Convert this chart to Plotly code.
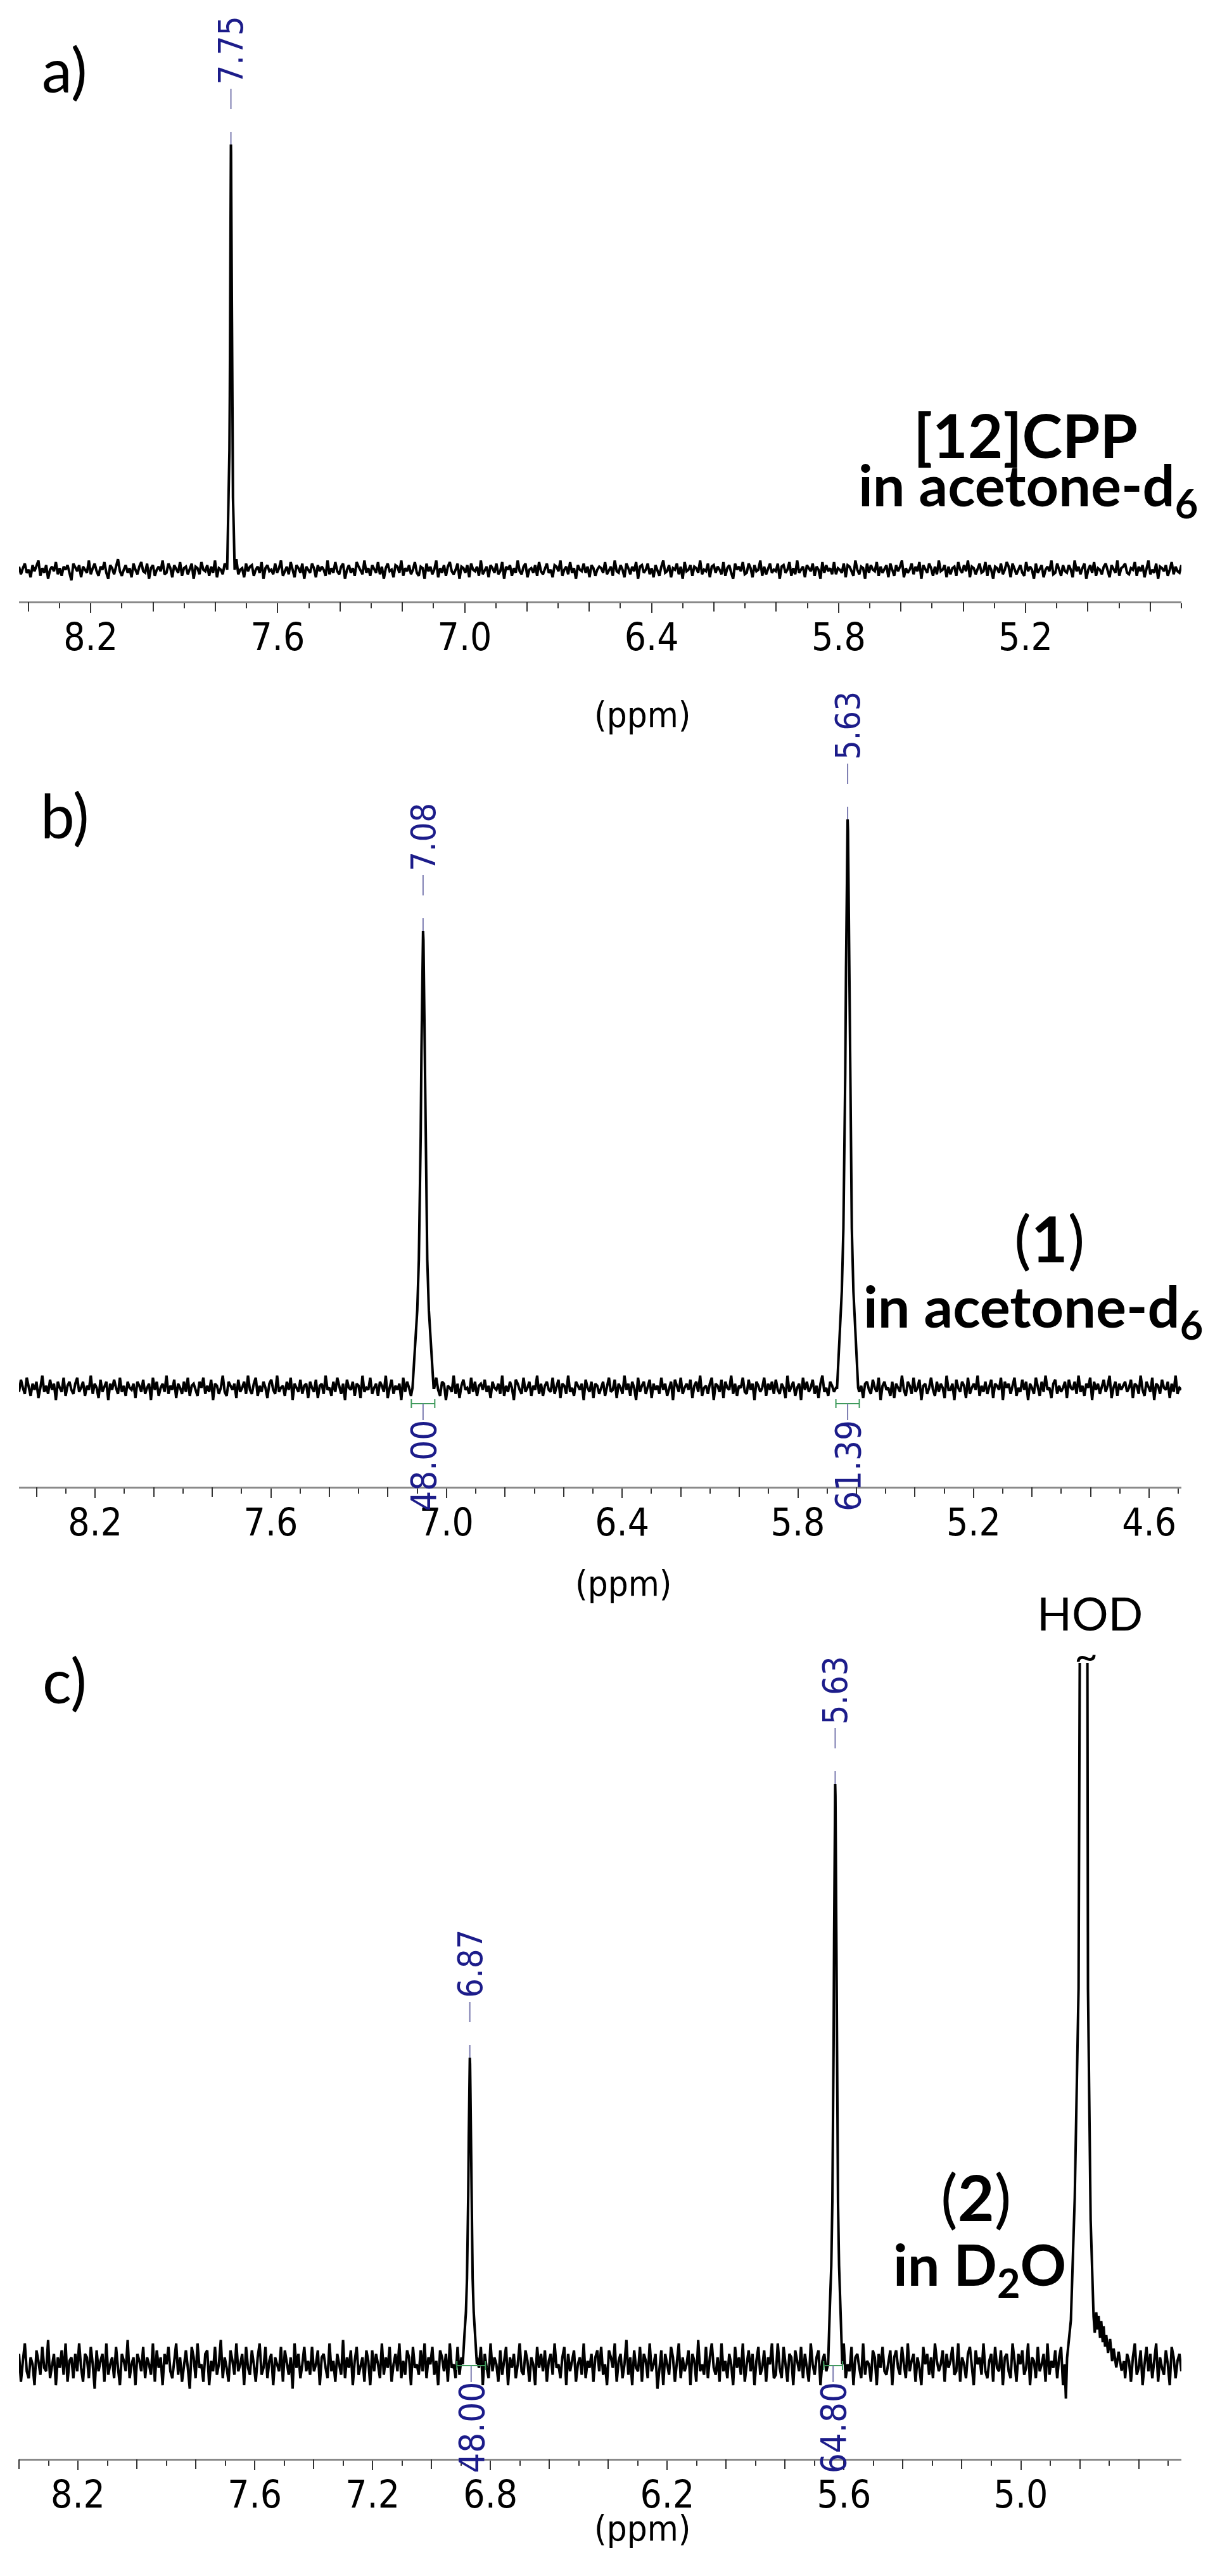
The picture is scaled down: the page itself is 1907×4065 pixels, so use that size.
import numpy as np
import plotly.graph_objects as go

W, H = 1907, 4065

# ------------------------------------------------------------------ data
# intensities are in arbitrary units
# panel a) [12]CPP in acetone-d6
A_RANGE = [8.43, 4.70]
A_TICK_LABELS = [8.2, 7.6, 7.0, 6.4, 5.8, 5.2]
A_PEAK_PPM = [7.75]
A_PEAK_HEIGHT = [67.1]
A_PEAK_HWHM = [0.003]
A_PEAK_LABELS = ["7.75"]
A_NOISE_SCALE = 0.24

# panel b) (1) in acetone-d6
B_RANGE = [8.46, 4.49]
B_TICK_LABELS = [8.2, 7.6, 7.0, 6.4, 5.8, 5.2, 4.6]
B_PEAK_PPM = [7.08, 5.63]
B_PEAK_HEIGHT = [72.1, 89.7]
B_PEAK_HWHM = [0.009, 0.009]
B_PEAK_LABELS = ["7.08", "5.63"]
B_INT_FROM = [7.12, 5.67]
B_INT_TO = [7.04, 5.59]
B_INT_VALUES = ["48.00", "61.39"]
B_NOISE_SCALE = 0.32

# panel c) (2) in D2O
C_RANGE = [8.40, 4.455]
C_TICK_LABELS = [8.2, 7.6, 7.2, 6.8, 6.2, 5.6, 5.0]
C_PEAK_PPM = [6.87, 5.63]
C_PEAK_HEIGHT = [48.4, 91.6]
C_PEAK_HWHM = [0.006, 0.006]
C_PEAK_LABELS = ["6.87", "5.63"]
C_INT_FROM = [6.914, 5.669]
C_INT_TO = [6.817, 5.605]
C_INT_VALUES = ["48.00", "64.80"]
C_NOISE_SCALE = 0.55

# HOD residual solvent peak (clipped at top), read point by point
HOD_PPM = [4.851, 4.847, 4.843, 4.838, 4.830, 4.817, 4.804, 4.800, 4.793, 4.787,
           4.781, 4.774, 4.772, 4.763, 4.753, 4.749, 4.744, 4.740, 4.736, 4.731,
           4.727, 4.722, 4.719, 4.714, 4.710, 4.704, 4.697, 4.690, 4.685, 4.676,
           4.668, 4.658, 4.650]
HOD_INT = [0.0, -5.4, 1.0, 3.0, 7.0, 26.2, 59.3, 110.7, 300.0, 500.0,
           300.0, 110.7, 59.3, 22.8, 7.5, 5.0, 8.2, 5.5, 7.6, 4.2,
           6.8, 3.5, 6.0, 2.8, 4.6, 1.8, 4.0, 0.5, 2.5, -0.5,
           2.0, -1.0, 0.5]

# line shape of a single resonance (offset in half-widths, relative height)
PROFILE_U = [-4, -3, -2.2, -1.6, -1.2, -0.9, -0.6, -0.35, -0.15, 0,
             0.15, 0.35, 0.6, 0.9, 1.2, 1.6, 2.2, 3, 4]
PROFILE_H = [0.0, 0.1, 0.17, 0.28, 0.41, 0.55, 0.74, 0.89, 0.98, 1.0,
             0.98, 0.89, 0.74, 0.55, 0.41, 0.28, 0.17, 0.1, 0.0]

# baseline noise
NOISE_A = [2,-3,1,4,-2,0,-5,3,-1,2,6,-4,1,-2,3,-6,0,2,-1,5,-3,1,-4,2,0,3,-2,-7,4,1,
           -1,3,-5,2,0,-2,6,-3,1,4,-1,-4,2,0,5,-2,-6,3,1,-3,2,7,-1,-4,0,3,-2,1,-5,4,
           0,-3,2,5,-1,-2,4,-6,1,3,-4,0,2,-1,6,-3,-2,4,1,-5,3,0,-2,5,-4,1,2,-3,0,4,
           -6,2,1,-3,5,0,-1,3,-4,2,-2,6,-5,1,0,-3,4,2,-1,-4,3,-2,7,-3,0,1,-5,4,-1,2,
           3,-4,0,2,-2,5,-6,1,3,-1,0,-3,4,-2,1,6,-4,-1,2,-3,5,0,-5,3,1,-2,4,-6,2,0,
           -2,4,1,-5,3,-1,2,0,-4,6,-3,1,-2,5,-1,-3,2,4,-6,0,3,-2,1,-4,5,2,-1,-3,6,-2,
           1,-4,3,0,-2,5,-3,2,-6,1,4,-1,0,-5,3,2,-2,6,-4,1,-1,3,-3,0,5,-2,-4,2,1,-6,
           4,-1,2,-3,0,6,-5,1,-2,3,-4,2,5,-1,-3,0,4,-6,2,1,-2,3,-5,4,0,-1,2,-4,6,-3,
           0,2,-5,3,1,-2,4,-3,-1,5,-6,2,0,3,-4,1,-2,6,-1,-3,2,4,-5,0,1,-2,3,-4,5,-1,
           -3,1,4,-2,0,-5,3,2,-1,6,-4,0,2,-3,5,-2,1,-6,3,0,-1,4,-2,2,-5,3,1,-4,0,2,
           1,-2,5,-3,0,2,-4,6,-1,-2,3,0,-5,4,1,-3,2,-1,5,-6,2,3,-2,0,4,-3,1,-5,3,0,
           -4,2,6,-2,-1,3,-5,1,0,4,-3,2,-6,5,-1,0,3,-4,2,1,-2,6,-3,0,-1,4,-5,2,3,-2,
           2,0,-3,5,-4,1,3,-2,-6,4,0,2,-1,5,-3,-2,4,1,-5,3,-1,0,6,-4,2,-3,1,4,-2,0,
           -1,4,-6,2,3,-2,0,5,-4,1,-3,6,-2,0,2,-5,3,1,-1,4,-4,2,0,-6,5,-2,3,-1,1,-3,
           5,-3,1,0,-2,4,-5,3,2,-1,-4,6,0,-3,2,1,-6,4,-2,3,0,-1,5,-4,2,-2,1,3,-5,4,
           0,-4,3,-1,2,6,-5,1,-2,0,4,-3,2,-1,5,-6,3,0,-2,4,1,-4,2,-3,6,-1,0,3,-5,2,
           -3,1,2,-4,5,0,-2,3,-1,6,-5,2,1,-3,0,4,-2,-1,5,-4,3,0,-6,2,1,-2,4,-3,0,5,
           2,-5,4,1,-3,0,3,-2,-4,5,-1,2,0,-6,4,-2,1,3,-5,0,2,-1,6,-3,-2,4,0,-4,3,-1,
           -2,3,0,-5,6,-1,2,-3,1,4,-6,0,3,-2,5,-4,1,0,-3,2,4,-1,-5,3,0,-2,6,-4,1,2,
           4,-2,-3,1,0,5,-4,2,-1,3,-5,1,6,-3,0,-2,4,-6,2,1,-1,3,-4,0,5,-3,2,-1,-2,3]
NOISE_B = [-2,4,0,-3,5,1,-4,2,-1,3,-5,0,6,-2,1,-3,4,-1,2,-6,3,0,-2,5,-4,1,3,-1,-3,2,
           5,-2,0,3,-4,1,-1,6,-3,2,0,-5,4,-2,1,3,-6,2,-1,4,0,-3,5,-2,1,-4,3,0,-1,2,
           -5,3,1,-2,4,-3,0,2,-6,5,-1,3,-4,0,2,-2,6,-3,1,-1,4,-5,2,0,-3,3,-2,5,-4,1,
           2,-1,-4,3,0,5,-3,1,-2,4,-6,2,1,-3,0,6,-2,-4,3,1,-1,2,-5,4,-2,0,3,-3,6,-1,
           -3,2,5,-4,1,-2,3,0,-5,2,4,-1,-3,6,-2,0,1,-4,3,-1,5,-6,2,0,-2,4,-3,1,2,-5,
           3,0,-2,4,-5,1,2,-3,6,-1,0,-4,3,-2,5,1,-3,2,-6,4,0,-1,3,-4,2,1,-5,6,-2,0,
           -1,5,-3,0,2,-4,3,1,-2,6,-5,0,4,-3,1,-1,2,-6,5,-2,3,0,-4,1,4,-3,2,-1,-5,3,
           1,-3,4,-2,0,5,-1,-4,3,2,-6,1,0,-2,6,-3,2,-5,1,4,-1,0,-3,5,-2,3,-4,1,2,-1,
           4,-2,1,-5,3,0,-1,2,-3,6,-4,1,-2,3,0,-6,4,2,-1,-3,5,-2,0,3,-4,1,-1,6,-3,2,
           -4,1,3,-1,-2,5,-3,0,4,-5,2,1,-3,6,-2,0,-4,3,1,-1,2,-6,4,0,-2,3,-5,2,1,-3,
           0,3,-4,1,5,-2,-1,4,-5,2,0,-3,6,-1,2,-4,3,0,-6,5,-2,1,3,-3,0,4,-5,2,-1,1,
           -3,5,-1,2,-4,0,3,-6,4,1,-2,5,-3,0,2,-1,4,-5,1,3,-2,6,-4,0,1,-3,2,5,-6,2,
           1,-2,4,-5,3,0,-1,6,-3,2,-4,1,0,5,-2,-3,4,-1,2,-6,3,1,-2,0,5,-4,2,-1,3,-3,
           4,-1,-3,2,0,-5,6,-2,1,3,-4,0,2,-6,5,-1,3,-2,0,4,-3,1,-5,2,6,-2,0,-4,3,1,
           -2,0,5,-3,1,4,-6,2,-1,0,3,-4,6,-2,1,-5,2,3,-1,-3,4,0,-2,5,-6,1,3,-1,0,-4,
           3,-5,2,0,-2,6,-1,-4,3,1,-3,5,-2,0,4,-6,1,2,-3,0,5,-1,-4,3,-2,2,0,-5,6,-1,
           -1,2,-6,4,0,-2,3,1,-5,5,-3,0,2,-1,6,-4,1,-2,3,-3,0,4,-5,2,1,-1,5,-6,3,0,
           2,-3,1,5,-4,0,-2,4,-1,3,-6,2,0,-3,5,1,-4,3,-2,6,-1,0,-5,2,4,-3,1,-2,0,3,
           -5,4,0,-1,3,-3,6,-2,1,-4,2,0,5,-6,3,-1,2,-3,0,4,-2,1,6,-5,0,3,-4,2,-1,1,
           3,-2,0,4,-5,2,1,-3,6,-1,-4,3,0,-2,5,-6,2,1,-3,4,0,-1,3,-5,2,-2,6,-3,0,-1]
NOISE_C = [3,-5,1,6,-2,-4,2,0,-6,4,1,-3,5,-1,-2,7,-4,0,3,-6,2,-1,4,-3,6,-5,1,2,-4,3,
           -2,6,-1,-5,3,2,-4,5,0,-7,4,-2,1,3,-5,6,-3,0,2,-4,5,-1,-6,3,1,-2,7,-4,0,2,
           -6,3,1,-2,5,-4,2,0,-3,6,-5,4,-1,2,-6,3,0,5,-2,-4,1,6,-3,2,-5,0,4,-1,-7,5,
           2,-4,6,-1,0,-5,3,4,-6,1,-2,5,-3,0,7,-4,2,-1,-5,4,1,-3,6,-2,0,3,-6,5,-1,-3,
           4,0,-5,2,6,-3,-1,5,-4,1,3,-6,2,0,-2,5,-5,4,1,-3,2,-7,6,-1,3,-4,0,5,-2,1,
           -3,5,-2,0,4,-6,2,3,-1,-4,6,-2,1,-5,3,0,-3,7,-4,2,-1,4,-6,1,5,-3,0,2,-5,4,
           1,-6,4,-2,3,0,-4,6,-3,2,-1,5,-5,0,3,-2,6,-4,1,-3,4,2,-6,5,-1,0,-3,4,-2,6,
           -4,2,0,5,-3,1,-6,4,2,-2,3,-5,6,-1,0,-4,5,-3,2,1,-5,3,-2,6,-4,0,2,-1,5,-6,
           3,-1,-4,6,-2,2,0,-5,4,-3,1,5,-6,2,-1,3,-4,0,6,-2,-3,4,1,-5,2,0,-6,5,-1,3,
           -2,4,-5,1,3,-3,6,-1,0,-4,2,5,-6,3,-2,1,4,-5,0,2,-3,6,-4,1,-1,3,-5,2,4,-2,
           5,-3,0,-6,4,2,-1,6,-5,1,3,-4,0,7,-3,2,-6,4,-1,-2,5,-5,3,1,-4,6,-2,0,3,-7,
           -1,4,-6,3,0,-3,5,2,-5,1,6,-4,2,-2,0,4,-6,3,1,-5,7,-2,0,-3,5,-4,2,6,-1,-3,
           2,-5,6,-2,1,-4,3,0,-6,5,-1,2,-3,6,-5,0,4,-2,3,-6,1,5,-3,-1,4,-5,2,0,6,-4,
           -3,6,-1,-4,5,0,-5,3,2,-6,4,1,-2,5,-4,3,-1,-5,6,0,-3,2,4,-6,1,3,-2,-4,5,0,
           4,-2,-5,3,1,6,-4,0,-2,5,-6,2,3,-1,-4,6,-3,1,0,-5,4,2,-6,3,-1,5,-2,-3,1,4,
           -6,2,4,-1,-3,5,0,-4,6,-2,1,3,-5,2,-1,-6,5,0,3,-3,2,-4,6,1,-2,0,4,-5,3,-1,
           1,5,-3,-2,6,-5,2,0,-4,3,5,-1,-6,4,0,2,-3,6,-2,-4,1,3,-5,5,-1,-2,4,-6,2,3,
           -2,-4,6,1,-5,3,0,4,-3,-1,6,-6,2,1,-4,5,-2,0,3,-5,6,-3,1,-1,4,-4,2,5,-6,0,
           3,-1,-3,5,-6,2,4,-2,0,6,-5,1,-3,3,2,-6,4,-1,5,-4,0,2,-5,6,-2,1,3,-4,0,5,
           -4,3,1,-5,2,6,-3,-1,4,-6,0,5,-2,3,-4,1,6,-5,2,-1,-3,4,0,-6,5,2,-4,1,3,-2]

# ------------------------------------------------------------------ layout constants (pixels)
PX_PER_UNIT = 10.0
X_LEFT_PX, X_RIGHT_PX = 22, 1857
PANELS = [
    dict(key="", extra="4", top=5, base=891, axis=941, rng=A_RANGE, ticks=A_TICK_LABELS,
         ppm=A_PEAK_PPM, height=A_PEAK_HEIGHT, hwhm=A_PEAK_HWHM, labels=A_PEAK_LABELS,
         noise=NOISE_A, nscale=A_NOISE_SCALE, ints=None, ppm_title_x=1006, ppm_title_y=1085),
    dict(key="2", extra="5", top=1040, base=2182, axis=2338, rng=B_RANGE, ticks=B_TICK_LABELS,
         ppm=B_PEAK_PPM, height=B_PEAK_HEIGHT, hwhm=B_PEAK_HWHM, labels=B_PEAK_LABELS,
         noise=NOISE_B, nscale=B_NOISE_SCALE,
         ints=(B_INT_FROM, B_INT_TO, B_INT_VALUES, -2.5), ppm_title_x=976, ppm_title_y=2490),
    dict(key="3", extra="6", top=2616, base=3723, axis=3872, rng=C_RANGE, ticks=C_TICK_LABELS,
         ppm=C_PEAK_PPM, height=C_PEAK_HEIGHT, hwhm=C_PEAK_HWHM, labels=C_PEAK_LABELS,
         noise=NOISE_C, nscale=C_NOISE_SCALE,
         ints=(C_INT_FROM, C_INT_TO, C_INT_VALUES, -0.2), ppm_title_x=1006, ppm_title_y=4016),
]

LABEL_BLUE = "#1c1c8a"
CONNECT = "#7b7bb0"
GREEN = "#3f9a5c"
TICK_COLOR = "#333333"
TICK_FONT = "DejaVu Sans Condensed, DejaVu Sans, sans-serif"
LABEL_FONT = "DejaVu Sans Condensed, DejaVu Sans, sans-serif"
TEXT_FONT = "Lato, Open Sans, sans-serif"


def px(x):
    return x / W


def py(y):
    return 1 - y / H


fig = go.Figure()
layout = dict(width=W, height=H, margin=dict(l=0, r=0, t=0, b=0),
              paper_bgcolor="white", plot_bgcolor="white", showlegend=False)
annotations = []
shapes = []

for P in PANELS:
    k = P["key"]
    xname, yname = "x" + k, "y" + k
    xextra = "x" + P["extra"]
    lo, hi = min(P["rng"]), max(P["rng"])
    # spectrum: noise points outside peak regions + peak line-shape points
    xn = np.linspace(P["rng"][0], P["rng"][1], len(P["noise"]))
    yn = np.array(P["noise"], dtype=float) * P["nscale"]
    keep = np.ones(len(xn), dtype=bool)
    xs, ys = [], []
    for c, h, w in zip(P["ppm"], P["height"], P["hwhm"]):
        u = np.array(PROFILE_U)
        keep &= np.abs(xn - c) > 4 * w
        xs.append(c + u * w)
        ys.append(np.array(PROFILE_H) * h)
    if k == "3":
        keep &= ~((xn >= min(HOD_PPM)) & (xn <= max(HOD_PPM)))
        xs.append(np.array(HOD_PPM))
        ys.append(np.array(HOD_INT))
    xs.append(xn[keep])
    ys.append(yn[keep])
    X = np.concatenate(xs)
    Y = np.concatenate(ys)
    order = np.argsort(-X)
    fig.add_trace(go.Scatter(x=X[order], y=Y[order], mode="lines",
                             line=dict(color="black", width=4),
                             xaxis=xname, yaxis=yname, hoverinfo="skip"))
    fig.add_trace(go.Scatter(x=[], y=[], mode="lines", xaxis=xextra, yaxis=yname,
                             hoverinfo="skip"))

    # axes
    ymin = -(P["axis"] - P["base"]) / PX_PER_UNIT
    ymax = (P["base"] - P["top"]) / PX_PER_UNIT
    major = np.round(np.arange(np.ceil(lo * 5) / 5, hi + 1e-9, 0.2), 1)
    minor = np.round(np.arange(np.ceil(lo * 10) / 10, hi + 1e-9, 0.1), 1)
    minor = [float(m) for m in minor if not np.any(np.isclose(m, major))]
    labelled = [float(v) for v in major if np.any(np.isclose(v, P["ticks"]))]
    unlabelled = [float(v) for v in major if not np.any(np.isclose(v, P["ticks"]))]
    common = dict(domain=[px(X_LEFT_PX), px(X_RIGHT_PX)], range=P["rng"], anchor=yname,
                  showgrid=False, zeroline=False, ticks="outside", ticklen=15, tickwidth=2,
                  tickcolor=TICK_COLOR, tickmode="array")
    layout["xaxis" + k] = dict(
        common, showline=True, linecolor="#8a8a8a", linewidth=3,
        tickvals=labelled, ticktext=["%.1f" % v for v in labelled],
        tickfont=dict(family=TICK_FONT, size=60, color="black"), ticklabelstandoff=-13,
        minor=dict(tickmode="array", tickvals=minor, ticks="outside", ticklen=8,
                   tickwidth=2, tickcolor=TICK_COLOR, showgrid=False))
    layout["xaxis" + P["extra"]] = dict(common, overlaying=xname, showline=False,
                                        tickvals=unlabelled, showticklabels=False)
    layout["yaxis" + k] = dict(domain=[py(P["axis"]), py(P["top"])], range=[ymin, ymax],
                               visible=False, anchor=xname)

    # peak labels with connector ticks
    for c, h, lab in zip(P["ppm"], P["height"], P["labels"]):
        annotations.append(dict(x=c, y=h, xref=xname, yref=yname, text=lab, showarrow=False,
                                textangle=-90, yanchor="bottom", xanchor="center", yshift=92,
                                font=dict(family=LABEL_FONT, size=54, color=LABEL_BLUE)))
        for y0, y1 in [(56, 88), (0, 20)]:
            shapes.append(dict(type="line", xref=xname, yref=yname, x0=c, x1=c,
                               ysizemode="pixel", yanchor=h, y0=y0, y1=y1,
                               line=dict(color=CONNECT, width=2)))

    # integrals
    if P["ints"] is not None:
        f, t, vals, yb = P["ints"]
        for a, b, v in zip(f, t, vals):
            mid = (a + b) / 2
            shapes.append(dict(type="line", xref=xname, yref=yname, x0=a, x1=b, y0=yb, y1=yb,
                               line=dict(color=GREEN, width=2)))
            for e in (a, b):
                shapes.append(dict(type="line", xref=xname, yref=yname, x0=e, x1=e,
                                   ysizemode="pixel", yanchor=yb, y0=-7, y1=7,
                                   line=dict(color=GREEN, width=2)))
            shapes.append(dict(type="line", xref=xname, yref=yname, x0=mid, x1=mid,
                               ysizemode="pixel", yanchor=yb, y0=0, y1=-26,
                               line=dict(color=CONNECT, width=2)))
            annotations.append(dict(x=mid, y=yb, xref=xname, yref=yname, text=v,
                                    showarrow=False, textangle=-90, yanchor="top",
                                    xanchor="center", yshift=-24,
                                    font=dict(family=LABEL_FONT, size=56, color=LABEL_BLUE)))

    annotations.append(dict(x=px(P["ppm_title_x"]), y=py(P["ppm_title_y"]), xref="paper",
                            yref="paper", text="(ppm)", showarrow=False,
                            font=dict(family=TICK_FONT, size=56, color="black")))


def text(x, y, s, size, bold=False):
    annotations.append(dict(x=px(x), y=py(y), xref="paper", yref="paper",
                            text=("<b>%s</b>" % s) if bold else s, showarrow=False,
                            xanchor="center", yanchor="middle",
                            font=dict(family=TEXT_FONT, size=size, color="black")))


text(94, 101, "a)", 96)
text(94, 1278, "b)", 96)
text(94, 2642, "c)", 96)
text(1611, 678, "[12]CPP", 96, True)
text(1615, 762, "in acetone-d<sub>6</sub>", 90, True)
text(1648, 1945, "(<b>1</b>)", 100)
text(1623, 2058, "in acetone-d<sub>6</sub>", 90, True)
text(1532, 3458, "(<b>2</b>)", 100)
text(1538, 3570, "in D<sub>2</sub>O", 90, True)
text(1712, 2537, "HOD", 72)
text(1706, 2603, "~", 64)

layout["annotations"] = annotations
layout["shapes"] = shapes
fig.update_layout(**layout)
fig.write_html("out.html")
